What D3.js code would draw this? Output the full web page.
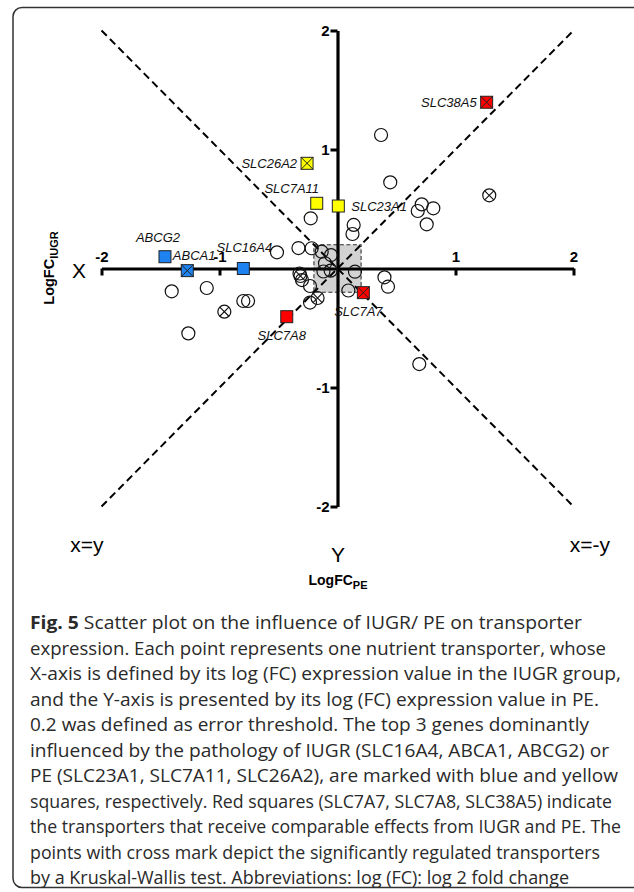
<!DOCTYPE html>
<html><head><meta charset="utf-8">
<script src="https://cdn.jsdelivr.net/npm/d3@7"></script>
<style>body{margin:0;background:#fff}</style>
</head><body>
<svg id="c" width="634" height="892" xmlns="http://www.w3.org/2000/svg"></svg>
<script>
// ---- data ----
const xTickValues = [-2, -1, 1, 2];
const yTickValues = [2, 1, -1, -2];
const threshold = 0.2;

// open circles (other transporters): x = logFC IUGR, y = logFC PE
const circleX = [0.369, 0.447, 1.286, 0.714, 0.812, 0.680, 0.756, -0.227, 0.137, 0.127,
  -0.513, -0.331, -0.219, -0.134, -0.055, -0.106, -0.119, -0.058, 0.148, 0.398,
  0.428, 0.092, -0.314, -0.301, -0.322, -0.233, -0.169, -0.233, -1.405, -1.108,
  -0.959, -0.798, -0.758, -1.264, 0.693];
const circleY = [1.122, 0.724, 0.615, 0.539, 0.506, 0.483, 0.371, 0.422, 0.366, 0.290,
  0.136, 0.172, 0.170, 0.141, 0.113, 0.044, -0.025, -0.018, -0.027, -0.074,
  -0.153, -0.185, -0.063, -0.097, -0.042, -0.147, -0.248, -0.286, -0.192, -0.164,
  -0.363, -0.273, -0.273, -0.545, -0.803];
const circleCross = [0,0,1,0,0,0,0,0,0,0, 0,0,0,0,0,0,0,0,0,0, 0,0,1,0,0,0,1,0,0,0, 1,0,0,0,0];

// highlighted genes
const geneNames = ["SLC38A5", "SLC26A2", "SLC7A11", "SLC23A1", "ABCG2", "ABCA1", "SLC16A4", "SLC7A8", "SLC7A7"];
const geneX = [1.264, -0.258, -0.176, 0.007, -1.462, -1.273, -0.798, -0.430, 0.219];
const geneY = [1.397, 0.884, 0.548, 0.525, 0.099, -0.018, 0.000, -0.405, -0.203];
const geneGroup = ["red", "yellow", "yellow", "yellow", "blue", "blue", "blue", "red", "red"];
const geneCross = [1, 1, 0, 0, 0, 1, 0, 0, 1];
const labelSide = ["left", "left", "aboveleft2", "right", "aboveleft", "overleft", "above", "below", "below"];

const captionLines = [
  "Scatter plot on the influence of IUGR/ PE on transporter",
  "expression. Each point represents one nutrient transporter, whose",
  "X-axis is defined by its log (FC) expression value in the IUGR group,",
  "and the Y-axis is presented by its log (FC) expression value in PE.",
  "0.2 was defined as error threshold. The top 3 genes dominantly",
  "influenced by the pathology of IUGR (SLC16A4, ABCA1, ABCG2) or",
  "PE (SLC23A1, SLC7A11, SLC26A2), are marked with blue and yellow",
  "squares, respectively. Red squares (SLC7A7, SLC7A8, SLC38A5) indicate",
  "the transporters that receive comparable effects from IUGR and PE. The",
  "points with cross mark depict the significantly regulated transporters",
  "by a Kruskal-Wallis test. Abbreviations: log (FC): log 2 fold change"
];
const captionEnds = [582, 606, 621, 599, 589, 609, 618, 612, 621, 600, 569];

// ---- drawing ----
const colors = {red: "#ff0000", yellow: "#ffff00", blue: "#1e82f0"};
const svg = d3.select("#c");
svg.append("rect").attr("width", 634).attr("height", 892).attr("fill", "#fff");
svg.append("rect").attr("x", 13).attr("y", 7.5).attr("width", 640).attr("height", 880)
  .attr("rx", 9).attr("fill", "none").attr("stroke", "#333").attr("stroke-width", 1.5);

const x = d3.scaleLinear().domain([-2, 2]).range([101.5, 573.5]);
const y = d3.scaleLinear().domain([-2, 2]).range([506.5, 30.5]);
const font = "Liberation Sans, Arial, sans-serif";

// threshold box
svg.append("rect")
  .attr("x", x(-threshold)).attr("y", y(threshold))
  .attr("width", x(threshold) - x(-threshold)).attr("height", y(-threshold) - y(threshold))
  .attr("fill", "#d2d2d2").attr("stroke", "#333").attr("stroke-width", 1.1)
  .attr("stroke-dasharray", "4,2.5");

// diagonals
[[-2, 2, 2, -2], [-2, -2, 2, 2]].forEach(d => {
  svg.append("line").attr("x1", x(d[0])).attr("y1", y(d[1])).attr("x2", x(d[2])).attr("y2", y(d[3]))
    .attr("stroke", "#000").attr("stroke-width", 2).attr("stroke-dasharray", "7.5,4.5");
});

// axes
const fmt = d => String(d);
const xAxis = d3.axisBottom(x).tickValues(xTickValues).tickFormat(fmt).tickSize(7).tickSizeOuter(0);
const gx = svg.append("g").attr("transform", `translate(0,${y(0)})`).call(xAxis);
gx.select(".domain").attr("stroke", "#000").attr("stroke-width", 3.2);
gx.selectAll(".tick line").attr("stroke", "#000").attr("stroke-width", 3);
gx.selectAll(".tick text").attr("y", -7).attr("dy", 0).attr("font-family", font)
  .attr("font-weight", "bold").attr("font-size", 15).attr("fill", "#000");

const yAxis = d3.axisLeft(y).tickValues(yTickValues).tickFormat(fmt).tickSize(7).tickSizeOuter(0);
const gy = svg.append("g").attr("transform", `translate(${x(0)},0)`).call(yAxis);
gy.select(".domain").attr("stroke", "#000").attr("stroke-width", 3.2);
gy.selectAll(".tick line").attr("stroke", "#000").attr("stroke-width", 3);
gy.selectAll(".tick text").attr("x", -8).attr("font-family", font)
  .attr("font-weight", "bold").attr("font-size", 15).attr("fill", "#000");

// circles
const cr = 6.5;
const cdata = circleX.map((v, i) => ({x: v, y: circleY[i], cross: circleCross[i]}));
const cg = svg.append("g").selectAll("g").data(cdata).join("g")
  .attr("transform", d => `translate(${x(d.x)},${y(d.y)})`);
cg.append("circle").attr("r", cr).attr("fill", "none").attr("stroke", "#111").attr("stroke-width", 1.2);
cg.filter(d => d.cross).append("path")
  .attr("d", `M${-cr*0.7},${-cr*0.7}L${cr*0.7},${cr*0.7}M${-cr*0.7},${cr*0.7}L${cr*0.7},${-cr*0.7}`)
  .attr("stroke", "#111").attr("stroke-width", 1.1);

// genes
const gs = 12;
const gdata = geneNames.map((n, i) => ({name: n, x: geneX[i], y: geneY[i], col: colors[geneGroup[i]], cross: geneCross[i], side: labelSide[i]}));
const gg = svg.append("g").selectAll("g").data(gdata).join("g")
  .attr("transform", d => `translate(${x(d.x)},${y(d.y)})`);
gg.append("rect").attr("x", -gs/2).attr("y", -gs/2).attr("width", gs).attr("height", gs)
  .attr("fill", d => d.col).attr("stroke", "#222").attr("stroke-width", 1);
gg.filter(d => d.cross).append("path")
  .attr("d", `M${-gs/2},${-gs/2}L${gs/2},${gs/2}M${-gs/2},${gs/2}L${gs/2},${-gs/2}`)
  .attr("stroke", "#222").attr("stroke-width", 1);
const off = {
  left: [-10, 5, "end"], aboveleft2: [-25, -10, "middle"], right: [13, 5, "start"],
  aboveleft: [-7, -15, "middle"], overleft: [-14.5, -10.5, "start"], above: [1, -17, "middle"],
  below: [-5, 23, "middle"]
};
gg.append("text")
  .attr("x", d => off[d.side][0]).attr("y", d => off[d.side][1])
  .attr("text-anchor", d => off[d.side][2])
  .attr("font-family", font).attr("font-style", "italic").attr("font-size", 13).attr("fill", "#111")
  .text(d => d.name);

// axis letters
function label(t, px, py, size, anchor) {
  return svg.append("text").attr("x", px).attr("y", py).attr("text-anchor", anchor || "middle")
    .attr("font-family", font).attr("font-size", size).attr("fill", "#000").text(t);
}
label("X", 79, 278, 21);
label("Y", 338, 562, 21);
label("x=y", 87, 552, 21);
label("x=-y", 590, 552, 21);

const pe = svg.append("text").attr("x", 338).attr("y", 585).attr("text-anchor", "middle")
  .attr("font-family", font).attr("font-weight", "bold").attr("font-size", 14).attr("fill", "#000");
pe.append("tspan").text("LogFC");
pe.append("tspan").attr("dy", 4).attr("font-size", 11).text("PE");

const iu = svg.append("text").attr("transform", "translate(54,268) rotate(-90)").attr("text-anchor", "middle")
  .attr("font-family", font).attr("font-weight", "bold").attr("font-size", 14.5).attr("fill", "#000");
iu.append("tspan").text("LogFC");
iu.append("tspan").attr("dy", 4).attr("font-size", 11).text("IUGR");

// caption
const capFont = "Open Sans, Noto Sans, sans-serif";
captionLines.forEach((t, i) => {
  const ty = 629 + i * 25.5;
  const txt = svg.append("text").attr("x", 30).attr("y", ty)
    .attr("font-family", capFont).attr("font-size", 18).attr("fill", "#2a2a2a")
    .attr("textLength", captionEnds[i] - 30).attr("lengthAdjust", "spacingAndGlyphs");
  if (i === 0) {
    txt.append("tspan").attr("font-weight", "bold").text("Fig. 5 ");
  }
  txt.append("tspan").text(t);
});
</script>
</body></html>
